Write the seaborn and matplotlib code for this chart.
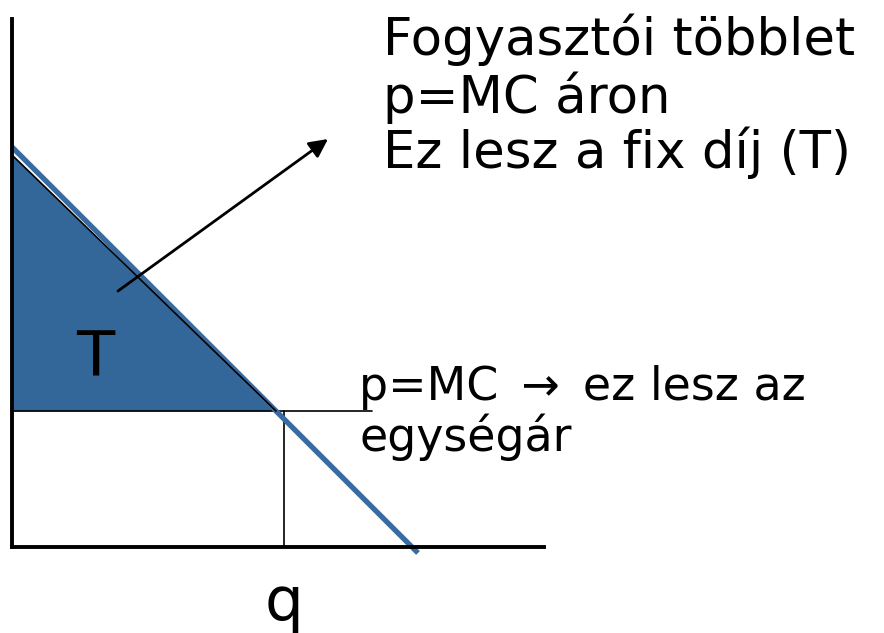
import numpy as np
import pandas as pd
import matplotlib
matplotlib.use("Agg")
import matplotlib.pyplot as plt
import seaborn as sns

# ---- data (economic units) ----
demand_q = [0.0, 10.15]          # quantity at ends of demand line
demand_p = [10.0, -0.15]         # price at ends of demand line
mc_price = 3.4                   # p = MC level
q_star = 6.6                     # intersection quantity (triangle apex)
q_mark = 6.8                     # quantity marker line
mc_line_end = 9.0                # end of horizontal p=MC line
axis_x_max = 13.3
axis_y_max = 13.2
arrow_from = (2.65, 6.4)
arrow_to = (7.9, 10.2)

title_lines = ["Fogyasztói többlet", "p=MC áron", "Ez lesz a fix díj (T)"]
mc_lines = ["p=MC\u2002→\u2002ez lesz az", "egységár"]
area_label = "T"
q_label = "q"

sns.set_theme(style="white")
plt.rcParams['font.family'] = ['DejaVu Sans']

fig = plt.figure(figsize=(8.84, 6.33), dpi=100)
ax = fig.add_axes([0, 0, 1, 1])
ax.set_xlim(-0.3, 21.8)
ax.set_ylim(-2.15, 13.675)
ax.axis("off")

fill_col = "#336699"
line_col = "#3A6B9E"

# consumer surplus triangle
tri_q = np.array([0.0, q_star])
tri_top = np.array([demand_p[0] - 0.2, mc_price])
ax.fill_between(tri_q, mc_price, tri_top, color=fill_col, lw=0, zorder=1)

# demand line
df = pd.DataFrame({"q": demand_q, "p": demand_p})
sns.lineplot(data=df, x="q", y="p", ax=ax, color=line_col, lw=3.8,
             solid_capstyle="butt", zorder=3)
# thin black hypotenuse
ax.plot([0, q_star], [demand_p[0] - 0.2, mc_price], color="black", lw=1.2, zorder=4)

# p=MC horizontal line and q marker
ax.plot([0, mc_line_end], [mc_price, mc_price], color="black", lw=1.2, zorder=2)
ax.plot([q_mark, q_mark], [0, mc_price], color="black", lw=1.2, zorder=2)

# axes
ax.plot([0, 0], [0, axis_y_max], color="black", lw=2.8, zorder=5, solid_capstyle="projecting")
ax.plot([0, axis_x_max], [0, 0], color="black", lw=2.8, zorder=5, solid_capstyle="projecting")

# arrow
ax.annotate("", xy=arrow_to, xytext=arrow_from,
            arrowprops=dict(arrowstyle="-|>", color="black", lw=2,
                            mutation_scale=28, shrinkA=0, shrinkB=0), zorder=6)

# texts
for txt, yb in zip(title_lines, [12.3, 10.85, 9.475]):
    ax.text(9.275, yb, txt, fontsize=37, va="baseline", ha="left", color="black")
ax.text(8.675, 3.675, mc_lines[0], fontsize=33, va="baseline", ha="left", color="black")
ax.text(8.675, 2.4, mc_lines[1], fontsize=33, va="baseline", ha="left", color="black")
ax.text(2.075, 4.3, area_label, fontsize=45, va="baseline", ha="center", color="black", zorder=7)
ax.text(q_mark, -1.825, q_label, fontsize=44, va="baseline", ha="center", color="black")

fig.savefig("out.png", dpi=100, facecolor="white")
